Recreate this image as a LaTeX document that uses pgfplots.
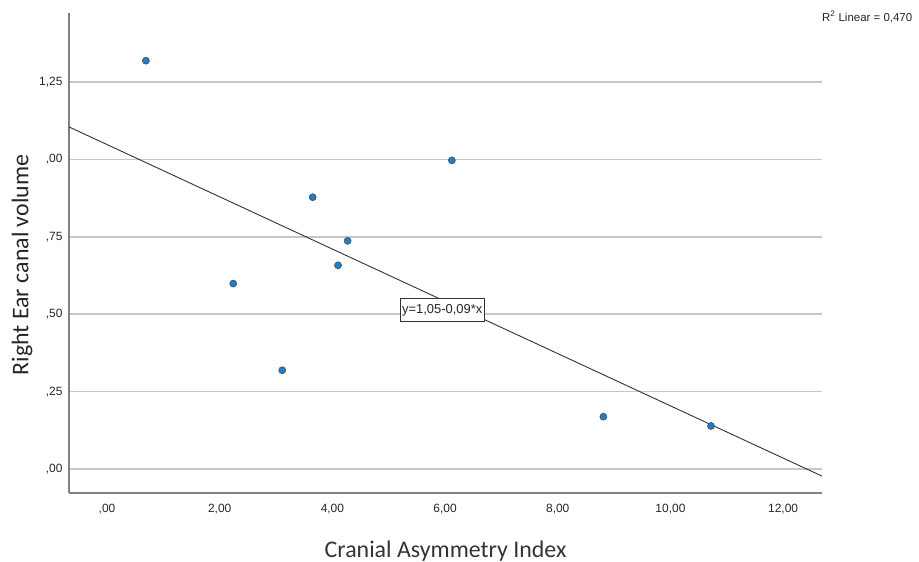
\documentclass[border=0pt]{standalone}
\usepackage{fontspec}
\setmainfont{Liberation Sans}
\newfontfamily\calibri{Carlito}
\usepackage{pgfplots}
\pgfplotsset{compat=1.18}
\definecolor{ptblue}{RGB}{28,126,206}
\begin{document}
\begin{tikzpicture}
\useasboundingbox (-69bp,-69bp) rectangle (850bp,493bp);
\begin{axis}[
  at={(0,0)}, anchor=south west,
  width=753bp, height=480bp, scale only axis,
  xmin=-0.675, xmax=12.69, ymin=-0.0775, ymax=1.473,
  axis x line*=bottom, axis y line*=left,
  axis line style={draw=black!50, line width=1.3bp},
  xtick={0,2,4,6,8,10,12},
  xticklabels={{,00},{2,00},{4,00},{6,00},{8,00},{10,00},{12,00}},
  ytick={0,0.25,0.5,0.75,1,1.25},
  yticklabels={{,00},{,25},{,50},{,75},{,00},{1,25}},
  major tick length=0pt,
  ymajorgrids,
  grid style={draw=black!22, line width=1.5bp},
  tick label style={font=\fontsize{12}{12}\selectfont, text=black!85},
  xticklabel style={yshift=-8bp},
  yticklabel style={xshift=-3bp},
  xlabel={\calibri Cranial Asymmetry Index},
  xlabel style={at={(axis description cs:0.5,0)}, anchor=center, yshift=-58bp, font=\fontsize{24}{24}\selectfont, text=black!80},
  ylabel={\calibri Right Ear canal volume},
  ylabel style={at={(axis description cs:-0.0624,0.475)}, anchor=center, font=\fontsize{24}{24}\selectfont, text=black!85},
]
\addplot[black!80, line width=0.9bp] coordinates {(-0.675,1.105) (12.69,-0.023)};
\addplot[only marks, mark=*, mark size=3.5bp, mark options={fill=ptblue, draw=black!70, line width=0.6bp}] coordinates {
(0.69,1.319)
(6.12,0.997)
(3.65,0.878)
(4.27,0.737)
(4.10,0.658)
(2.24,0.599)
(3.11,0.319)
(8.81,0.169)
(10.72,0.139)
};
\node[draw=black!80, fill=white, line width=0.8bp, font=\fontsize{13}{13}\selectfont, inner xsep=2bp, minimum height=23bp, text=black!85] at (axis cs:5.95,0.514) {y=1,05-0,09*x};
\end{axis}
\node[anchor=west, inner sep=0pt, font=\fontsize{11.5}{11.5}\selectfont, text=black!85] at (753bp,476bp) {R\textsuperscript{2} Linear = 0,470};
\end{tikzpicture}
\end{document}
